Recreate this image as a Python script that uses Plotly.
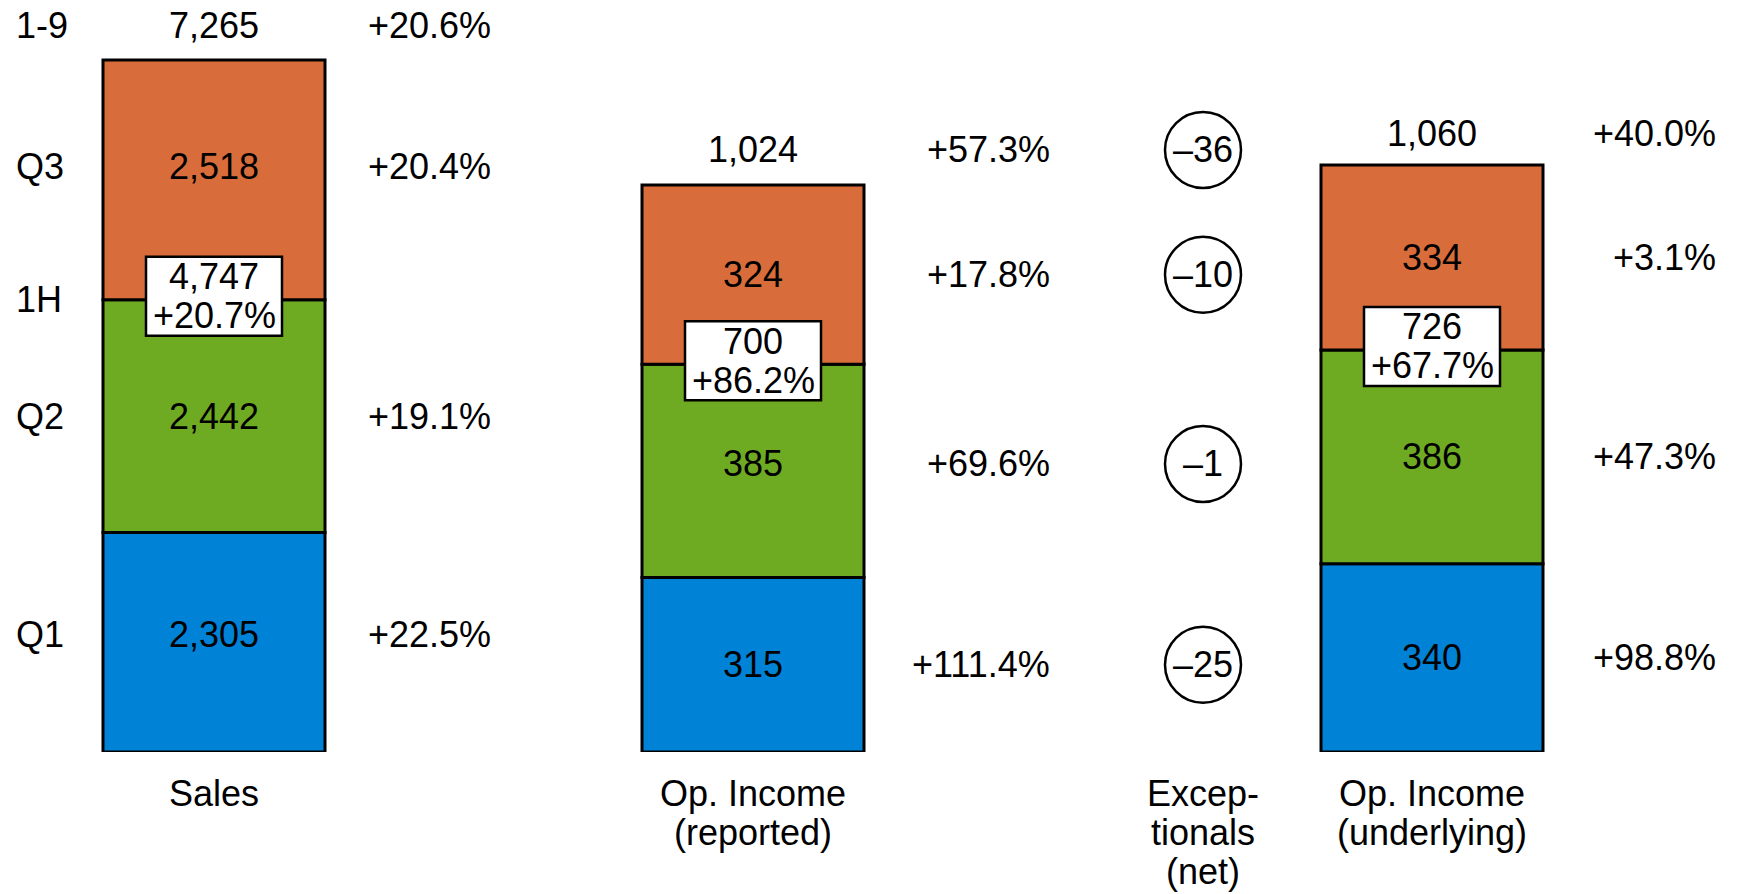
import numpy as np
import plotly.graph_objects as go

# ---------------- data ----------------
quarters = ["Q1", "Q2", "Q3"]

sales = [2305, 2442, 2518]
sales_growth = ["+22.5%", "+19.1%", "+20.4%"]
sales_1h = 4747
sales_1h_growth = "+20.7%"
sales_total = 7265
sales_total_growth = "+20.6%"

oi_reported = [315, 385, 324]
oi_reported_growth = ["+111.4%", "+69.6%", "+17.8%"]
oi_reported_1h = 700
oi_reported_1h_growth = "+86.2%"
oi_reported_total = 1024
oi_reported_total_growth = "+57.3%"

exceptionals = [-25, -1, -10]
exceptionals_total = -36

oi_underlying = [340, 386, 334]
oi_underlying_growth = ["+98.8%", "+47.3%", "+3.1%"]
oi_underlying_1h = 726
oi_underlying_1h_growth = "+67.7%"
oi_underlying_total = 1060
oi_underlying_total_growth = "+40.0%"

row_labels = {"total": "1-9", "half": "1H"}

column_titles = [
    ["Sales"],
    ["Op. Income", "(reported)"],
    ["Excep-", "tionals", "(net)"],
    ["Op. Income", "(underlying)"],
]

# ---------------- style / layout ----------------
W, H = 1738, 894
FONT = "Liberation Sans, Arial, Helvetica, sans-serif"
FS = 36
quarter_colors = ["#0083D7", "#6FAA23", "#D86D3B"]

SALES_X, REP_X, EXC_X, UND_X = 214, 753, 1203, 1432
BAR_W = 222
GROWTH_RIGHT = {"sales": 493, "rep": 1052, "und": 1718}
ROW_LABEL_X = 14
TOTAL_SHIFT = 35        # px above the bar top for totals
LINE_STEP = 39          # px between title lines
BOX_HALF_W = 68
# upward nudge (px) of each quarter's label row, per column (Q1, Q2, Q3)
ROW_NUDGE = {"sales": [8, 0, 13], "rep": [0, 7, 0], "und": [0, 0, 0]}

def fmt(v):
    return f"{v:,}" if v >= 0 else "\u2013" + f"{abs(v):,}"

def stack_base(vals):
    return np.concatenate([[0], np.cumsum(vals)[:-1]])

sales_base = stack_base(sales)
rep_base = stack_base(oi_reported)
und_base = stack_base(oi_underlying)

fig = go.Figure()

bar_common = dict(width=BAR_W, hoverinfo="skip", showlegend=False)

for i, q in enumerate(quarters):
    fig.add_trace(go.Bar(
        name=q, x=[SALES_X], y=[sales[i]], base=[sales_base[i]],
        marker=dict(color=quarter_colors[i], line=dict(color="black", width=3)),
        yaxis="y", **bar_common))
    fig.add_trace(go.Bar(
        name=q, x=[REP_X, UND_X], y=[oi_reported[i], oi_underlying[i]],
        base=[rep_base[i], und_base[i]],
        marker=dict(color=quarter_colors[i], line=dict(color="black", width=3)),
        yaxis="y2", **bar_common))

annotations = []
shapes = []

def label(x, y, text, yref, xanchor="center", yshift=0):
    annotations.append(dict(
        x=x, y=y, xref="x", yref=yref, text=text, showarrow=False,
        xanchor=xanchor, yanchor="middle", yshift=yshift,
        font=dict(family=FONT, size=FS, color="black")))

def half_box(x, y, value, growth, yref):
    shapes.append(dict(
        type="rect", xref="x", yref=yref, layer="above",
        xsizemode="pixel", ysizemode="pixel", xanchor=x, yanchor=y,
        x0=-BOX_HALF_W, x1=BOX_HALF_W, y0=-36, y1=43,
        fillcolor="white", line=dict(color="black", width=2.5)))
    label(x, y, fmt(value), yref, yshift=23)
    label(x, y, growth, yref, yshift=-16)

# Sales column
label(SALES_X, sales_total, fmt(sales_total), "y", yshift=TOTAL_SHIFT)
label(GROWTH_RIGHT["sales"], sales_total, sales_total_growth, "y", "right", TOTAL_SHIFT)
label(ROW_LABEL_X, sales_total, row_labels["total"], "y", "left", TOTAL_SHIFT)
for i, q in enumerate(quarters):
    mid = sales_base[i] + sales[i] / 2
    nud = ROW_NUDGE["sales"][i]
    label(SALES_X, mid, fmt(sales[i]), "y", yshift=nud)
    label(GROWTH_RIGHT["sales"], mid, sales_growth[i], "y", "right", nud)
    label(ROW_LABEL_X, mid, q, "y", "left", nud)
label(ROW_LABEL_X, sales_1h, row_labels["half"], "y", "left")
half_box(SALES_X, sales_1h, sales_1h, sales_1h_growth, "y")

# Op. Income (reported)
label(REP_X, oi_reported_total, fmt(oi_reported_total), "y2", yshift=TOTAL_SHIFT)
label(GROWTH_RIGHT["rep"], oi_reported_total, oi_reported_total_growth, "y2", "right", TOTAL_SHIFT)
for i in range(3):
    mid = rep_base[i] + oi_reported[i] / 2
    nud = ROW_NUDGE["rep"][i]
    label(REP_X, mid, fmt(oi_reported[i]), "y2", yshift=nud)
    label(GROWTH_RIGHT["rep"], mid, oi_reported_growth[i], "y2", "right", nud)
half_box(REP_X, oi_reported_1h, oi_reported_1h, oi_reported_1h_growth, "y2")

# Exceptionals (net): circled values level with the reported rows
exc_rows = [(rep_base[i] + oi_reported[i] / 2, exceptionals[i], ROW_NUDGE["rep"][i]) for i in range(3)]
exc_rows.append((oi_reported_total, exceptionals_total, TOTAL_SHIFT))
for y, v, shift in exc_rows:
    shapes.append(dict(
        type="circle", xref="x", yref="y2", layer="above",
        xsizemode="pixel", ysizemode="pixel", xanchor=EXC_X, yanchor=y,
        x0=-38, x1=38, y0=shift - 38, y1=shift + 38,
        line=dict(color="black", width=2.5)))
    label(EXC_X, y, fmt(v), "y2", yshift=shift)

# Op. Income (underlying)
label(UND_X, oi_underlying_total, fmt(oi_underlying_total), "y2", yshift=TOTAL_SHIFT - 3)
label(GROWTH_RIGHT["und"], oi_underlying_total, oi_underlying_total_growth, "y2", "right", TOTAL_SHIFT - 3)
for i in range(3):
    mid = und_base[i] + oi_underlying[i] / 2
    nud = ROW_NUDGE["und"][i]
    label(UND_X, mid, fmt(oi_underlying[i]), "y2", yshift=nud)
    label(GROWTH_RIGHT["und"], mid, oi_underlying_growth[i], "y2", "right", nud)
half_box(UND_X, oi_underlying_1h, oi_underlying_1h, oi_underlying_1h_growth, "y2")

# Column titles below the baseline
for cx, lines in zip([SALES_X, REP_X, EXC_X, UND_X], column_titles):
    for k, line in enumerate(lines):
        annotations.append(dict(
            x=cx, y=0, xref="x", yref="paper", text=line, showarrow=False,
            xanchor="center", yanchor="middle", yshift=-41 - k * LINE_STEP,
            font=dict(family=FONT, size=FS, color="black")))

fig.update_layout(
    width=W, height=H,
    margin=dict(l=0, r=0, t=0, b=142),
    paper_bgcolor="white", plot_bgcolor="white",
    barmode="overlay",
    showlegend=False,
    xaxis=dict(range=[0, W], visible=False, fixedrange=True),
    yaxis=dict(range=[0, 7895], visible=False, fixedrange=True),
    yaxis2=dict(range=[0, 1358], visible=False, overlaying="y", fixedrange=True),
    annotations=annotations,
    shapes=shapes,
)

fig.write_html("out.html", config={"displayModeBar": False})
